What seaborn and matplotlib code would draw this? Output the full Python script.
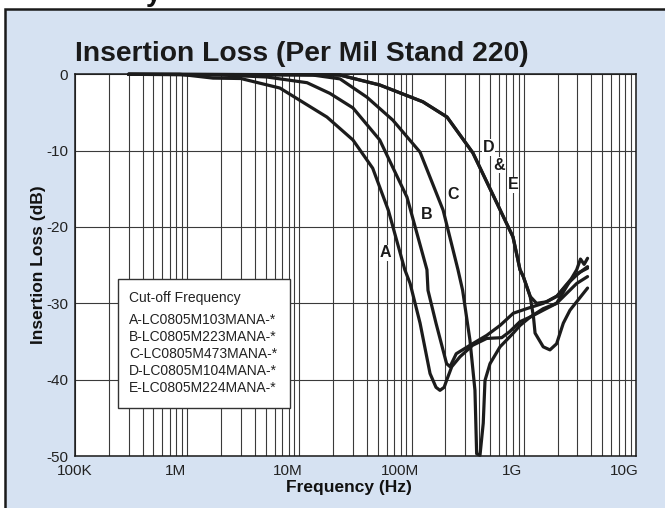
import numpy as np
import pandas as pd
import matplotlib
matplotlib.use("Agg")
import matplotlib.pyplot as plt
import seaborn as sns
from matplotlib.patches import Rectangle
from matplotlib import transforms
from matplotlib import font_manager as fm
from matplotlib.ticker import LogLocator, NullFormatter

# ---------------- data ----------------
curve_names = ["A", "B", "C", "D", "E"]

freq_A = [3e5, 8.6e5, 1.7e6, 3e6, 6.7e6, 17.6e6, 30e6, 45e6, 62e6, 87e6, 97e6, 119e6,
          146e6, 165e6, 179e6, 195e6, 205e6, 228e6, 270e6, 350e6, 467e6, 635e6, 750e6,
          925e6, 1.14e9, 1.49e9, 1.96e9, 2.41e9, 2.96e9, 3.2e9, 3.45e9, 3.7e9]
loss_A = [0, 0, -0.5, -0.55, -1.8, -5.6, -8.6, -12.3, -17.8, -25.6, -27.4, -32.6,
          -39.2, -41.0, -41.4, -41.0, -40.1, -38.3, -37.0, -35.5, -34.6, -34.5, -33.7,
          -32.4, -31.8, -30.7, -30.0, -27.8, -25.6, -24.2, -24.9, -24.1]

freq_B = [3e5, 2e6, 5.1e6, 11.7e6, 18.7e6, 30e6, 52e6, 91e6, 137e6, 140e6, 165e6, 205e6,
          220e6, 250e6, 331e6, 467e6, 614e6, 806e6, 1.06e9, 1.49e9, 1.96e9, 2.58e9,
          3.17e9, 3.7e9]
loss_B = [0, -0.1, -0.35, -1.1, -2.5, -4.4, -8.6, -16.1, -25.6, -28.3, -32.6, -37.9,
          -38.3, -36.6, -35.5, -34.2, -32.9, -31.3, -30.7, -30.0, -29.1, -27.0,
          -25.9, -25.4]

freq_C = [3e5, 5e6, 13.2e6, 23e6, 40e6, 68e6, 119e6, 191e6, 259e6, 285e6, 331e6, 367e6,
          380e6, 407e6, 435e6, 451e6, 500e6, 614e6, 806e6, 925e6, 1.14e9, 1.49e9,
          1.96e9, 2.41e9, 2.96e9, 3.7e9]
loss_C = [0, -0.05, -0.1, -0.6, -3.0, -6.0, -10.2, -17.8, -25.6, -28.3, -34.8, -41.4,
          -49.7, -49.9, -45.7, -40.1, -37.9, -35.7, -33.9, -32.9, -31.8, -30.9,
          -30.0, -28.7, -27.4, -26.5]

freq_D = [3e5, 10e6, 23e6, 52e6, 126e6, 207e6, 352e6, 577e6, 801e6, 925e6, 990e6,
          1.14e9, 1.3e9, 1.6e9, 2e9, 2.4e9, 3e9, 3.7e9]
loss_D = [0, -0.05, -0.1, -1.4, -3.6, -5.6, -10.3, -16.9, -21.3, -25.6, -26.5,
          -29.1, -30.0, -29.8, -29.0, -27.6, -26.2, -25.2]

freq_E = [3e5, 10e6, 23e6, 52e6, 126e6, 207e6, 352e6, 577e6, 801e6, 925e6, 990e6,
          1.14e9, 1.22e9, 1.26e9, 1.49e9, 1.71e9, 1.96e9, 2.25e9, 2.58e9, 3.7e9]
loss_E = [0, -0.05, -0.1, -1.4, -3.6, -5.6, -10.3, -16.9, -21.3, -25.6, -26.5,
          -29.1, -31.8, -33.9, -35.7, -36.1, -35.3, -32.6, -30.9, -28.0]

# curve label positions (frequency, dB)
label_text = ["A", "B", "C", "D", "&", "E"]
label_freq = [58e6, 136e6, 236e6, 483e6, 605e6, 806e6]
label_loss = [-23.4, -18.4, -15.8, -9.6, -11.9, -14.5]

legend_title = "Cut-off Frequency"
legend_entries = ["A-LC0805M103MANA-*", "B-LC0805M223MANA-*", "C-LC0805M473MANA-*",
                  "D-LC0805M104MANA-*", "E-LC0805M224MANA-*"]

x_ticks = [1e5, 1e6, 1e7, 1e8, 1e9, 1e10]
x_tick_labels = ["100K", "1M", "10M", "100M", "1G", "10G"]
y_ticks = [0, -10, -20, -30, -40, -50]
y_tick_labels = ["0", "-10", "-20", "-30", "-40", "-50"]

title = "Insertion Loss (Per Mil Stand 220)"
x_label = "Frequency (Hz)"
y_label = "Insertion Loss (dB)"

# ---------------- build table ----------------
freqs = [freq_A, freq_B, freq_C, freq_D, freq_E]
losses = [loss_A, loss_B, loss_C, loss_D, loss_E]
df = pd.concat([pd.DataFrame({"Frequency": f, "Loss": l, "Curve": n})
                for f, l, n in zip(freqs, losses, curve_names)], ignore_index=True)

# ---------------- style ----------------
sns.set_theme(style="white")
plt.rcParams["font.family"] = ["Liberation Sans", "DejaVu Sans"]
plt.rcParams["axes.unicode_minus"] = False

installed = {f.name for f in fm.fontManager.ttflist}
if "Liberation Sans Narrow" in installed:
    head_family = ["Liberation Sans Narrow", "Liberation Sans"]
    title_size, axlabel_size = 24.5, 14.5
else:
    head_family = ["Liberation Sans", "DejaVu Sans"]
    title_size, axlabel_size = 20.3, 12.5

W, H = 665, 508
fig = plt.figure(figsize=(W / 100, H / 100), dpi=100)
fig.patch.set_facecolor("white")

panel = Rectangle((5 / W, -0.05), 1.2, (H - 9) / H + 0.05, transform=fig.transFigure,
                  facecolor="#d6e2f2", edgecolor="#1a1a1a", lw=1.8, zorder=-10)
fig.patches.append(panel)

# cropped fragment of the heading above the panel
fig.text(146 / W, 1 - 1 / H, "y", fontsize=20, fontweight="bold", color="#111111",
         family=head_family, ha="left", va="baseline", zorder=-5)

ax = fig.add_axes([75 / W, 52 / H, 561 / W, 381.7 / H])
ax.set_zorder(1)
ax.set_facecolor("white")

sns.lineplot(data=df, x="Frequency", y="Loss", units="Curve", estimator=None,
             sort=False, color="#1c1c1c", lw=2.3, ax=ax, legend=False, zorder=5)
for ln in ax.lines:
    ln.set_clip_on(False)
    ln.set_solid_joinstyle("round")

ax.set_xscale("log")
ax.set_xlim(1e5, 1e10)
ax.set_ylim(-50, 0)
ax.set_xticks(x_ticks)
ax.set_xticklabels(x_tick_labels)
ax.xaxis.set_minor_locator(LogLocator(base=10, subs=np.arange(2, 10)))
ax.xaxis.set_minor_formatter(NullFormatter())
ax.set_yticks(y_ticks)
ax.set_yticklabels(y_tick_labels)

ax.grid(which="major", axis="both", color="#3a3a3a", lw=0.8)
ax.grid(which="minor", axis="x", color="#3a3a3a", lw=0.8)
ax.set_axisbelow(True)
ax.tick_params(axis="both", which="both", length=0, labelsize=11, labelcolor="#222222")
ax.tick_params(axis="x", pad=6)
ax.tick_params(axis="y", pad=5)
for s in ax.spines.values():
    s.set_color("#1a1a1a")
    s.set_linewidth(1.1)
    s.set_visible(True)

# x tick labels of the original sit slightly left of their gridlines
shift = transforms.ScaledTranslation(-12 / 100, 0, fig.dpi_scale_trans)
for i, lab in enumerate(ax.get_xticklabels()):
    if i > 0:
        lab.set_transform(lab.get_transform() + shift)

ax.set_xlabel(x_label, fontsize=axlabel_size, fontweight="bold", color="#111111",
              family=head_family)
ax.set_ylabel(y_label, fontsize=axlabel_size, fontweight="bold", color="#111111",
              family=head_family)
ax.xaxis.set_label_coords(0.488, -0.063)
ax.yaxis.set_label_coords(-0.052, 0.5)

fig.text(75 / W, (H - 61) / H, title, fontsize=title_size, fontweight="bold",
         color="#1a1a1a", ha="left", va="baseline", family=head_family)

# curve labels
for t, f, l in zip(label_text, label_freq, label_loss):
    ax.text(f, l, t, ha="center", va="center", fontsize=11.5, fontweight="bold",
            color="#1a1a1a", zorder=6,
            bbox=dict(facecolor="white", edgecolor="none", pad=0.6))

# legend box
ax.add_patch(Rectangle((0.0761, 0.125), 0.3071, 0.3387, transform=ax.transAxes,
                       facecolor="white", edgecolor="#333333", lw=1.0, zorder=3))
ax.text(0.0968, 0.4132, legend_title, transform=ax.transAxes, fontsize=10,
        color="#222222", ha="left", va="center", zorder=4)
for i, e in enumerate(legend_entries):
    ax.text(0.0968, 0.3563 - i * 0.0448, e, transform=ax.transAxes, fontsize=10,
            color="#222222", ha="left", va="center", zorder=4)

fig.savefig("out.png", dpi=100)
